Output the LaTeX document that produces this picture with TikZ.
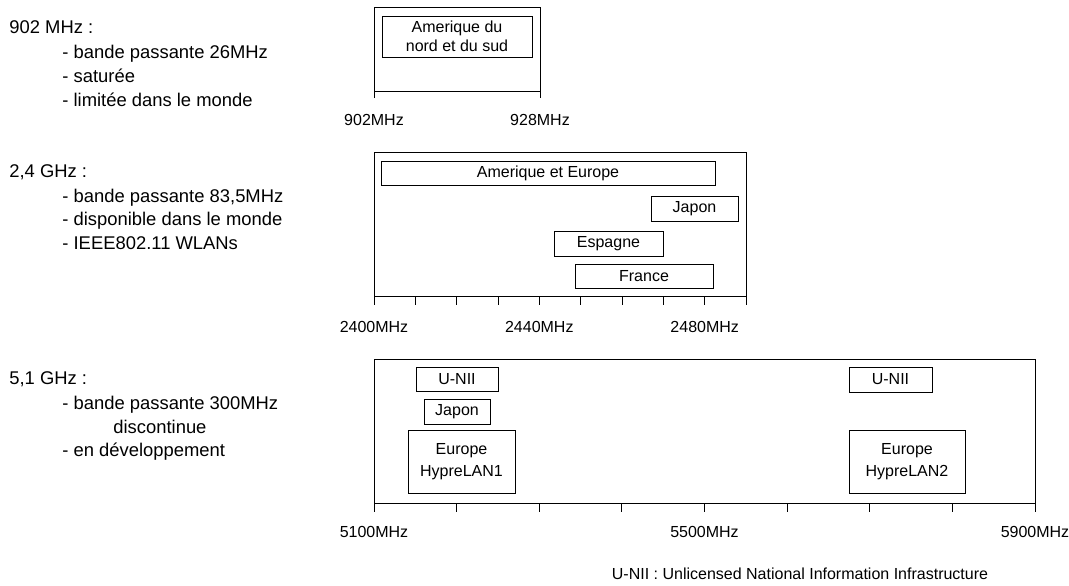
\documentclass[tikz,border=0pt]{standalone}
\usepackage{fontspec}
\setmainfont{Liberation Sans}
\usepackage{tikz}

\begin{document}
\begin{tikzpicture}[x=0.5pt,y=-0.5pt,
							every node/.style={inner sep=0pt},
							axe/.style={line width=0.5pt},
							zone/.style={draw,line width=0.5pt,align=center,font=\fontsize{8}{10}\selectfont},
							freq/.style={font=\fontsize{8}{10}\selectfont},
							titre/.style={anchor=base west,font=\fontsize{9.2}{12}\selectfont},
							point/.style={anchor=base west,font=\fontsize{9.2}{12}\selectfont}]
			\useasboundingbox (0,0) rectangle (1069,585);
			% 902 MHz
			\node[titre] (t902) at (9,33.5) {902 MHz :};
			\node[point] (p902a) at (62,58.5) {- bande passante 26MHz};
			\node[point] (p902b) at (62,82.5) {- saturée};
			\node[point] (p902c) at (62,106.5) {- limitée dans le monde};
			\draw[axe] (374,98) -- (374,7) -- (540,7) -- (540,98);
			\draw[axe] (374,91) -- (540,91);
			\node[zone,minimum width=75pt,minimum height=20.5pt,font=\fontsize{8}{9.5}\selectfont] (ams) at (457,36.5) {Amerique du\\nord et du sud};
			\node[freq] (f902) at (374,120) {902MHz};
			\node[freq] (f928) at (540,120) {928MHz};
			% 2,4 GHz
			\node[titre] (t24) at (9,177.5) {2,4 GHz :};
			\node[point] (p24a) at (62,202.5) {- bande passante 83,5MHz};
			\node[point] (p24b) at (62,225.5) {- disponible dans le monde};
			\node[point] (p24c) at (62,249.5) {- IEEE802.11 WLANs};
			\draw[axe] (374,152) rectangle (746,296);
			\foreach \i in {0,...,9}
				\draw[axe] (374+\i*41.333,296) -- ++(0,9);
			\node[zone,minimum width=167pt,minimum height=12pt] (ameu) at (548,173) {Amerique et Europe};
			\node[zone,minimum width=43.5pt,minimum height=12.5pt] (jap24) at (694.5,208.5) {Japon};
			\node[zone,minimum width=54.5pt,minimum height=12.5pt] (esp) at (608.5,243.5) {Espagne};
			\node[zone,minimum width=69pt,minimum height=12pt] (fra) at (644,276) {France};
			\node[freq] (f2400) at (374,327) {2400MHz};
			\node[freq] (f2440) at (539.3,327) {2440MHz};
			\node[freq] (f2480) at (704.7,327) {2480MHz};
			% 5,1 GHz
			\node[titre] (t51) at (9,384.5) {5,1 GHz :};
			\node[point] (p51a) at (62,409.5) {- bande passante 300MHz};
			\node[point] (p51b) at (113,433.5) {discontinue};
			\node[point] (p51c) at (62,456.5) {- en développement};
			\draw[axe] (374,359) rectangle (1035,503);
			\foreach \i in {0,...,8}
				\draw[axe] (374+\i*82.625,503) -- ++(0,9);
			\node[zone,minimum width=41pt,minimum height=12pt] (unii1) at (457,379) {U-NII};
			\node[zone,minimum width=33pt,minimum height=12.5pt] (jap51) at (457,411.5) {Japon};
			\node[zone,minimum width=53.5pt,minimum height=31.5pt,font=\fontsize{8}{11}\selectfont] (hl1) at (461.5,461.5) {Europe\\HypreLAN1};
			\node[zone,minimum width=41.5pt,minimum height=12.5pt] (unii2) at (890.5,379.5) {U-NII};
			\node[zone,minimum width=58pt,minimum height=31.5pt,font=\fontsize{8}{11}\selectfont] (hl2) at (907,461.5) {Europe\\HypreLAN2};
			\node[freq] (f5100) at (374,532) {5100MHz};
			\node[freq] (f5500) at (704.5,532) {5500MHz};
			\node[freq] (f5900) at (1035,532) {5900MHz};
			\node[freq] (note) at (800,574) {U-NII : Unlicensed National Information Infrastructure};
		\end{tikzpicture}
\end{document}
